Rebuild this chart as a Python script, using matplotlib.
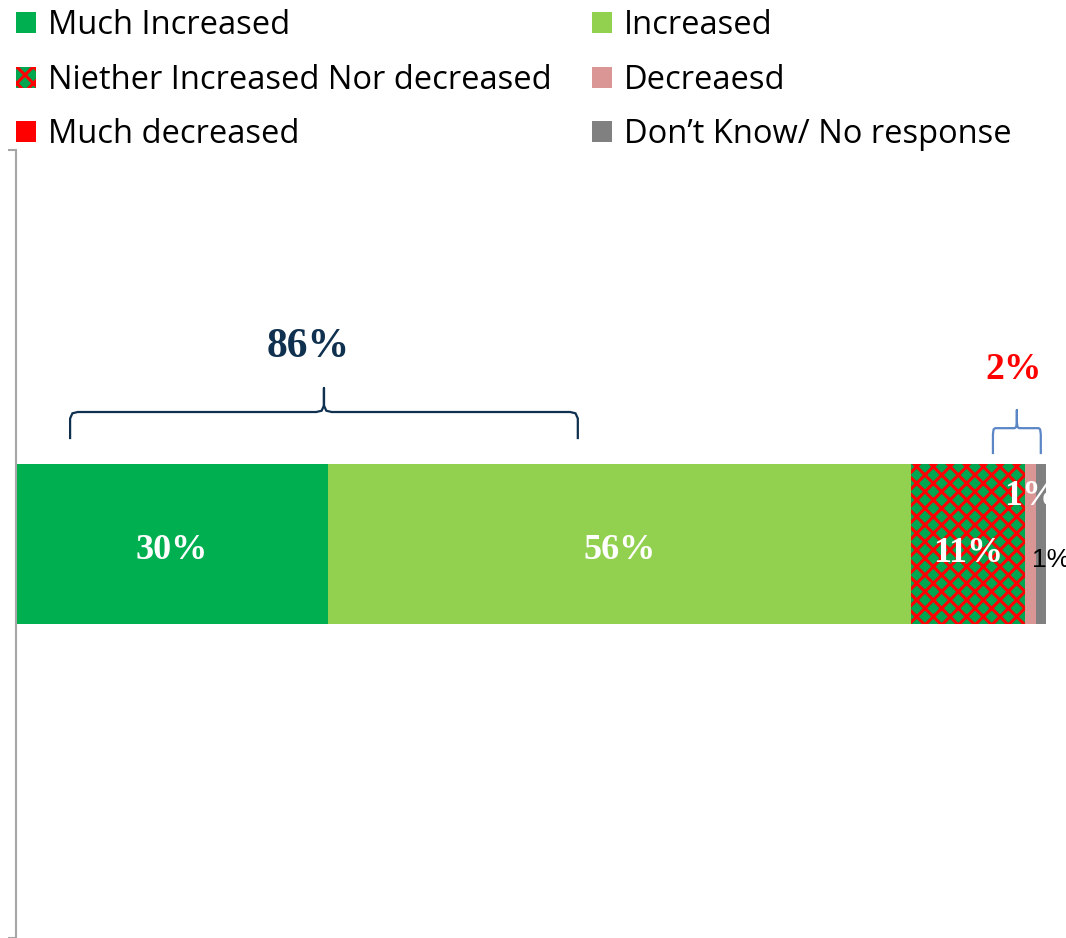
import numpy as np
import matplotlib.pyplot as plt

# survey responses (percent)
categories = ['Much Increased', 'Increased', 'Niether Increased Nor decreased',
              'Decreaesd', 'Much decreased', 'Don\u2019t Know/ No response']
values = [30, 56, 11, 1, 0, 1]
labels = ['30%', '56%', '11%', '1%', '', '1%']
colors = ['#00B050', '#92D050', '#00A550', '#DA9694', '#FF0000', '#808080']

group_pos = '86%'
group_neg = '2%'

plt.rcParams['hatch.linewidth'] = 2.2

fig = plt.figure(figsize=(10.66, 9.38), dpi=100)
ax = fig.add_axes([16 / 1066, 0, 1030 / 1066, 1 - 150 / 938])

left = 0
bars = []
for cat, v, c in zip(categories, values, colors):
    if cat.startswith('Niether'):
        b = ax.barh(0, v, left=left, height=0.204, color=c, hatch='xx',
                    edgecolor='#FF0000', linewidth=0, label=cat)
    else:
        b = ax.barh(0, v, left=left, height=0.204, color=c,
                    edgecolor='none', label=cat)
    bars.append(b)
    left += v

# data labels
serif = dict(family='Liberation Serif', weight='bold', fontsize=26)
starts = np.cumsum([0] + values[:-1])
ax.text(starts[0] + values[0] / 2, -0.008, labels[0], color='white', ha='center', va='center', **serif)
ax.text(starts[1] + values[1] / 2, -0.008, labels[1], color='white', ha='center', va='center', **serif)
ax.text(starts[2] + values[2] / 2, -0.012, labels[2], color='white', ha='center', va='center', **serif)
ax.text(starts[3] - 2.0, 0.06, labels[3], color='white', ha='left', va='center',
        clip_on=True, **serif)
ax.text(starts[5] - 0.3, -0.02, labels[5], color='black', ha='left',
        va='center', fontsize=19, family='Liberation Sans')


def brace(x0, x1, yb, yh, yt, color, lw):
    xm = (x0 + x1) / 2
    r = (x1 - x0) * 0.012 + 0.15
    d = (yh - yb) * 0.25
    xs = [x0, x0, x0 + r * 0.3, x0 + r, xm - r, xm - r * 0.3, xm, xm,
          xm, xm + r * 0.3, xm + r, x1 - r, x1 - r * 0.3, x1, x1]
    ys = [yb, yh - d, yh - d * 0.2, yh, yh, yh + d * 0.2, yh + d, yt,
          yh + d, yh + d * 0.2, yh, yh, yh - d * 0.2, yh - d, yb]
    ax.plot(xs, ys, color=color, lw=lw, solid_joinstyle='round')


brace(5.2, 54.0, 0.1345, 0.1675, 0.198, '#10304F', 1.6)
ax.text(28.1, 0.25, group_pos, color='#10304F', ha='center', va='center',
        family='Liberation Serif', weight='bold', fontsize=30)

brace(93.9, 98.5, 0.1155, 0.147, 0.17, '#5B86C6', 1.6)
ax.text(95.9, 0.221, group_neg, color='#FF0000', ha='center', va='center',
        family='Liberation Serif', weight='bold', fontsize=27)

ax.set_xlim(0, 99)
ax.set_ylim(-0.5, 0.5)
ax.set_yticks([-0.5, 0.5])
ax.set_yticklabels([])
ax.tick_params(axis='y', length=6, width=1.5, color='#A6A6A6')
for s in ['top', 'right', 'bottom']:
    ax.spines[s].set_visible(False)
ax.spines['left'].set_color('#A6A6A6')
ax.spines['left'].set_linewidth(1.5)
ax.set_xticks([])

order = [0, 2, 4, 1, 3, 5]
h = [bars[i] for i in order]
l = [categories[i] for i in order]
fig.legend(h, l, ncol=2, loc='upper left', bbox_to_anchor=(16 / 1066, 0.99),
           frameon=False, prop={'family': 'Open Sans', 'size': 23.5},
           borderpad=0, borderaxespad=0,
           handlelength=0.61, handleheight=0.61, handletextpad=0.37,
           columnspacing=1.23, labelspacing=0.66)

fig.savefig('out.png', dpi=100)
